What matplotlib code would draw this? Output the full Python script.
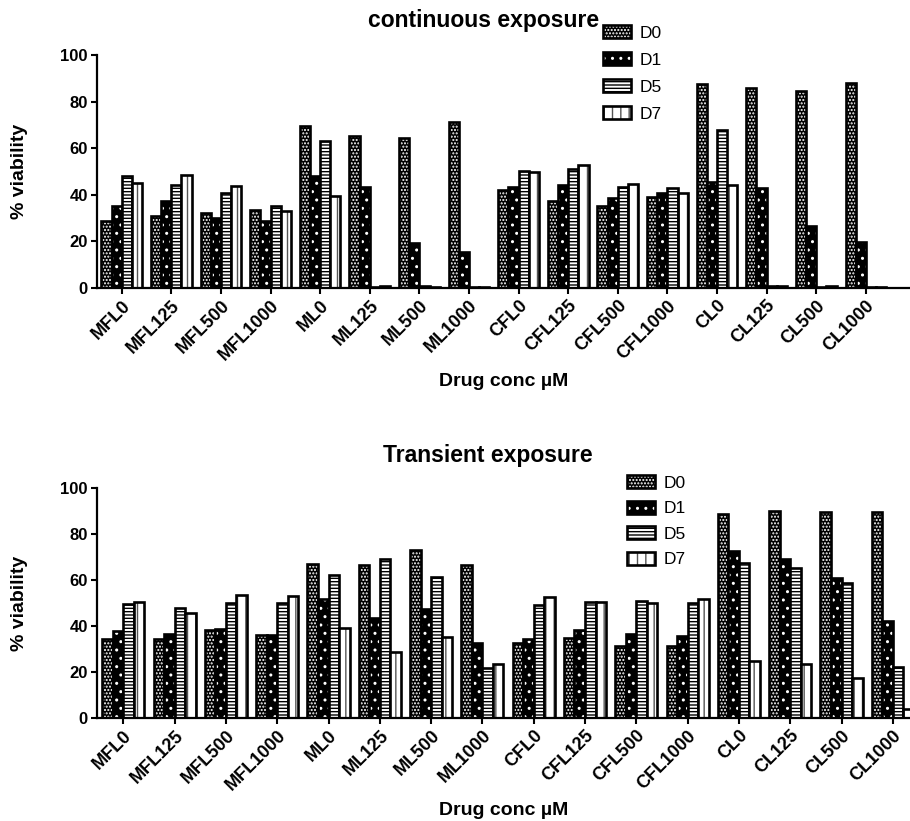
import matplotlib
matplotlib.use('Agg')
import matplotlib.pyplot as plt
import numpy as np
from matplotlib.patches import Patch

plt.rcParams['font.family'] = ['Liberation Sans', 'DejaVu Sans']
plt.rcParams['hatch.linewidth'] = 1.0

categories = ['MFL0', 'MFL125', 'MFL500', 'MFL1000', 'ML0', 'ML125', 'ML500', 'ML1000',
              'CFL0', 'CFL125', 'CFL500', 'CFL1000', 'CL0', 'CL125', 'CL500', 'CL1000']
series = ['D0', 'D1', 'D5', 'D7']

cont_D0 = [28.6, 31.1, 32.1, 33.6, 69.7, 65.4, 64.3, 71.4, 41.9, 37.4, 35.3, 39.0, 87.4, 85.7, 84.6, 88.0]
cont_D1 = [35.0, 37.4, 30.0, 28.6, 47.9, 43.4, 19.3, 15.4, 43.3, 44.1, 38.6, 40.6, 45.7, 43.0, 26.4, 19.9]
cont_D5 = [47.9, 44.3, 40.7, 35.4, 62.9, 0.5, 1.0, 0.5, 50.3, 51.1, 43.3, 43.0, 67.6, 1.0, 0.5, 0.5]
cont_D7 = [45.0, 48.6, 43.9, 33.1, 39.3, 1.0, 0.5, 0.5, 49.6, 52.9, 44.7, 40.6, 44.1, 1.0, 0.7, 0.5]

trans_D0 = [34.3, 34.2, 38.1, 36.2, 66.9, 66.6, 73.1, 66.6, 32.7, 34.9, 31.5, 31.4, 88.7, 89.8, 89.4, 89.4]
trans_D1 = [37.9, 36.6, 38.7, 36.3, 51.7, 43.5, 47.4, 32.7, 34.4, 38.2, 36.5, 35.8, 72.7, 69.3, 61.0, 42.0]
trans_D5 = [49.6, 48.0, 49.9, 50.0, 62.1, 69.2, 61.3, 21.9, 49.1, 50.3, 51.0, 49.9, 67.6, 65.4, 58.9, 22.1]
trans_D7 = [50.6, 45.8, 53.6, 53.0, 39.2, 28.9, 35.2, 23.3, 52.8, 50.6, 49.9, 51.6, 25.0, 23.4, 17.3, 3.8]

# (face colour, hatch colour, hatch pattern)
styles = [('black', 'white', '.....'),
          ('black', 'white', '..'),
          ('white', 'black', '-----'),
          ('white', '#555555', '||')]

W = 910
H = 821
fig = plt.figure(figsize=(W / 100, H / 100), dpi=100)

ax1 = fig.add_axes([97 / W, 1 - 288 / H, 813 / W, 233 / H])
ax2 = fig.add_axes([97 / W, 1 - 718 / H, 813 / W, 230 / H])

bw = 0.205
x = np.arange(len(categories))


def draw(ax, data, xlim, legend_anchor, labelspacing):
    handles = []
    for i, vals in enumerate(data):
        fc, hc, hatch = styles[i]
        pos = x + (i - 1.5) * bw
        ax.bar(pos, vals, width=bw, color=fc, edgecolor=hc, hatch=hatch, linewidth=0)
        ax.bar(pos, vals, width=bw, fill=False, edgecolor='black', linewidth=1.9)
        handles.append((Patch(facecolor=fc, edgecolor=hc, hatch=hatch, linewidth=0),
                        Patch(fill=False, edgecolor='black', linewidth=1.9)))
    ax.set_xlim(*xlim)
    ax.set_ylim(0, 100)
    ax.set_yticks([0, 20, 40, 60, 80, 100])
    ax.set_xticks(x)
    ax.set_xticklabels(categories, rotation=45, ha='right', rotation_mode='anchor',
                       fontsize=13, fontweight='bold')
    for lab in ax.get_yticklabels():
        lab.set_fontsize(12)
        lab.set_fontweight('bold')
    ax.spines['top'].set_visible(False)
    ax.spines['right'].set_visible(False)
    ax.spines['left'].set_linewidth(1.6)
    ax.spines['bottom'].set_linewidth(1.6)
    ax.tick_params(axis='both', direction='out', length=4.5, width=1.5, pad=2)
    ax.set_xlabel('Drug conc µM', fontsize=14, fontweight='bold')
    ax.xaxis.set_label_coords(0.5, -0.365)
    ax.set_ylabel('% viability', fontsize=14, fontweight='bold')
    ax.yaxis.set_label_coords(-0.085, 0.5)
    fig.legend(handles, series, loc='upper left', bbox_to_anchor=legend_anchor,
               bbox_transform=fig.transFigure, frameon=False, fontsize=12.5,
               handlelength=1.62, handleheight=0.78, handletextpad=0.5,
               labelspacing=labelspacing, borderpad=0, borderaxespad=0)


draw(ax1, [cont_D0, cont_D1, cont_D5, cont_D7], (-0.498, 15.89),
     (603 / W, 1 - 25 / H), 0.66)
draw(ax2, [trans_D0, trans_D1, trans_D5, trans_D7], (-0.513, 15.335),
     (627 / W, 1 - 475 / H), 0.58)

fig.text(483.5 / W, 1 - 27 / H, 'continuous exposure', ha='center', va='baseline',
         fontsize=16.5, fontweight='bold')
fig.text(488 / W, 1 - 462 / H, 'Transient exposure', ha='center', va='baseline',
         fontsize=16.5, fontweight='bold')

fig.savefig('out.png', dpi=100)
